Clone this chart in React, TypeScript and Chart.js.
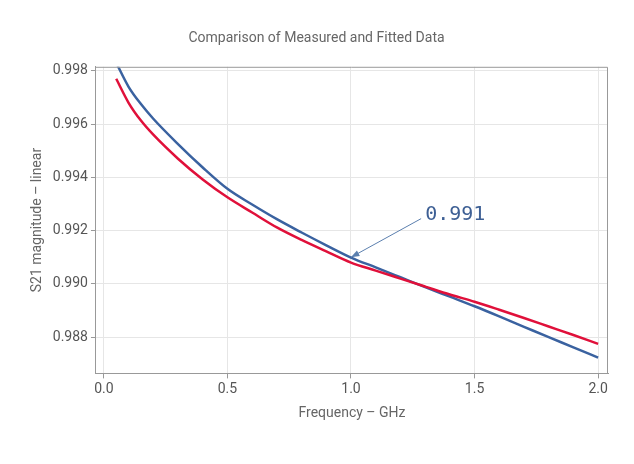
import React, { useEffect, useRef } from "react";
import { Chart, registerables } from "chart.js";
Chart.register(...registerables);

const freq = [0.05, 0.1, 0.15, 0.2, 0.3, 0.4, 0.5, 0.6, 0.7, 0.8, 0.9, 1.0, 1.1, 1.2, 1.3, 1.4, 1.5, 1.6, 1.7, 1.8, 1.9, 2.0];
const fitted = [0.9983, 0.9974, 0.99675, 0.9962, 0.99525, 0.99437, 0.99357, 0.99298, 0.99243, 0.99193, 0.99145, 0.99099, 0.99062, 0.99025, 0.98988, 0.98952, 0.98916, 0.98878, 0.98839, 0.988, 0.98762, 0.98723];
const measured = [0.9977, 0.9968, 0.99613, 0.9956, 0.9947, 0.99392, 0.99325, 0.99268, 0.99212, 0.99165, 0.99122, 0.9908, 0.9905, 0.9902, 0.9899, 0.9896, 0.98933, 0.98903, 0.98872, 0.9884, 0.98808, 0.98775];
const xTicks = [0, 0.5, 1, 1.5, 2];
const yTicks = [0.988, 0.99, 0.992, 0.994, 0.996, 0.998];
const annotX = 1.0, annotY = 0.991, labelX = 1.3, labelY = 0.9926, annotText = "0.991";

export default function App() {
  const ref = useRef<HTMLCanvasElement>(null);
  useEffect(() => {
    const annot = {
      id: "annot",
      afterDatasetsDraw(c: any) {
        const { ctx, scales: { x, y }, chartArea: ca } = c;
        ctx.save();
        ctx.strokeStyle = "#999"; ctx.lineWidth = 1;
        ctx.beginPath(); ctx.moveTo(ca.left, ca.top + 0.5); ctx.lineTo(ca.right - 0.5, ca.top + 0.5); ctx.lineTo(ca.right - 0.5, ca.bottom); ctx.stroke();
        const px = x.getPixelForValue(annotX), py = y.getPixelForValue(annotY);
        const tx = x.getPixelForValue(labelX), ty = y.getPixelForValue(labelY);
        ctx.strokeStyle = "#5b7fae"; ctx.fillStyle = "#5b7fae";
        ctx.beginPath(); ctx.moveTo(tx - 4, ty + 4); ctx.lineTo(px, py); ctx.stroke();
        const a = Math.atan2(py - (ty + 4), px - (tx - 4));
        ctx.beginPath(); ctx.moveTo(px, py);
        ctx.lineTo(px - 9 * Math.cos(a - 0.35), py - 9 * Math.sin(a - 0.35));
        ctx.lineTo(px - 9 * Math.cos(a + 0.35), py - 9 * Math.sin(a + 0.35));
        ctx.closePath(); ctx.fill();
        ctx.fillStyle = "#3d5f94"; ctx.font = "20px 'DejaVu Sans Mono'"; ctx.textBaseline = "middle";
        ctx.fillText(annotText, tx, ty);
        ctx.restore();
      },
    };
    const chart = new Chart(ref.current!, {
      type: "scatter",
      data: {
        datasets: [
          { data: measured.map((v, i) => ({ x: freq[i], y: v })), showLine: true, borderColor: "#e0103a", borderWidth: 2.5, pointRadius: 0, cubicInterpolationMode: "monotone" },
          { data: fitted.map((v, i) => ({ x: freq[i], y: v })), showLine: true, borderColor: "#3a62a0", borderWidth: 2.5, pointRadius: 0, cubicInterpolationMode: "monotone" },
        ],
      },
      options: {
        animation: false, responsive: false,
        layout: { padding: { left: 25, right: 26, top: 20, bottom: 38 } },
        plugins: {
          legend: { display: false }, tooltip: { enabled: false },
          title: { display: true, text: "Comparison of Measured and Fitted Data", color: "#666", font: { size: 14, family: "Roboto", weight: "normal" }, padding: { top: 10, bottom: 20 } },
        },
        scales: {
          x: {
            type: "linear", min: -0.032, max: 2.04,
            afterBuildTicks: (s: any) => { s.ticks = xTicks.map((v) => ({ value: v })); },
            ticks: { color: "#555", font: { size: 14, family: "Roboto" }, callback: (v: any) => Number(v).toFixed(1) },
            grid: { color: "#e6e6e6", drawTicks: true, tickColor: "#999", tickLength: 5 },
            border: { color: "#999" },
            title: { display: true, text: "Frequency – GHz", color: "#666", font: { size: 14, family: "Roboto" } },
          },
          y: {
            min: 0.98664, max: 0.99815,
            afterBuildTicks: (s: any) => { s.ticks = yTicks.map((v) => ({ value: v })); },
            ticks: { color: "#555", font: { size: 14, family: "Roboto" }, callback: (v: any) => Number(v).toFixed(3) },
            grid: { color: "#e6e6e6", tickColor: "#999", tickLength: 5 },
            border: { color: "#999" },
            title: { display: true, text: "S21 magnitude – linear", color: "#666", font: { size: 14, family: "Roboto" } },
          },
        },
      },
      plugins: [annot],
    });
    return () => chart.destroy();
  }, []);
  return <div style={{ position: "absolute", left: 0, top: 0, background: "#fff" }}><canvas ref={ref} width={634} height={464} /></div>;
}
